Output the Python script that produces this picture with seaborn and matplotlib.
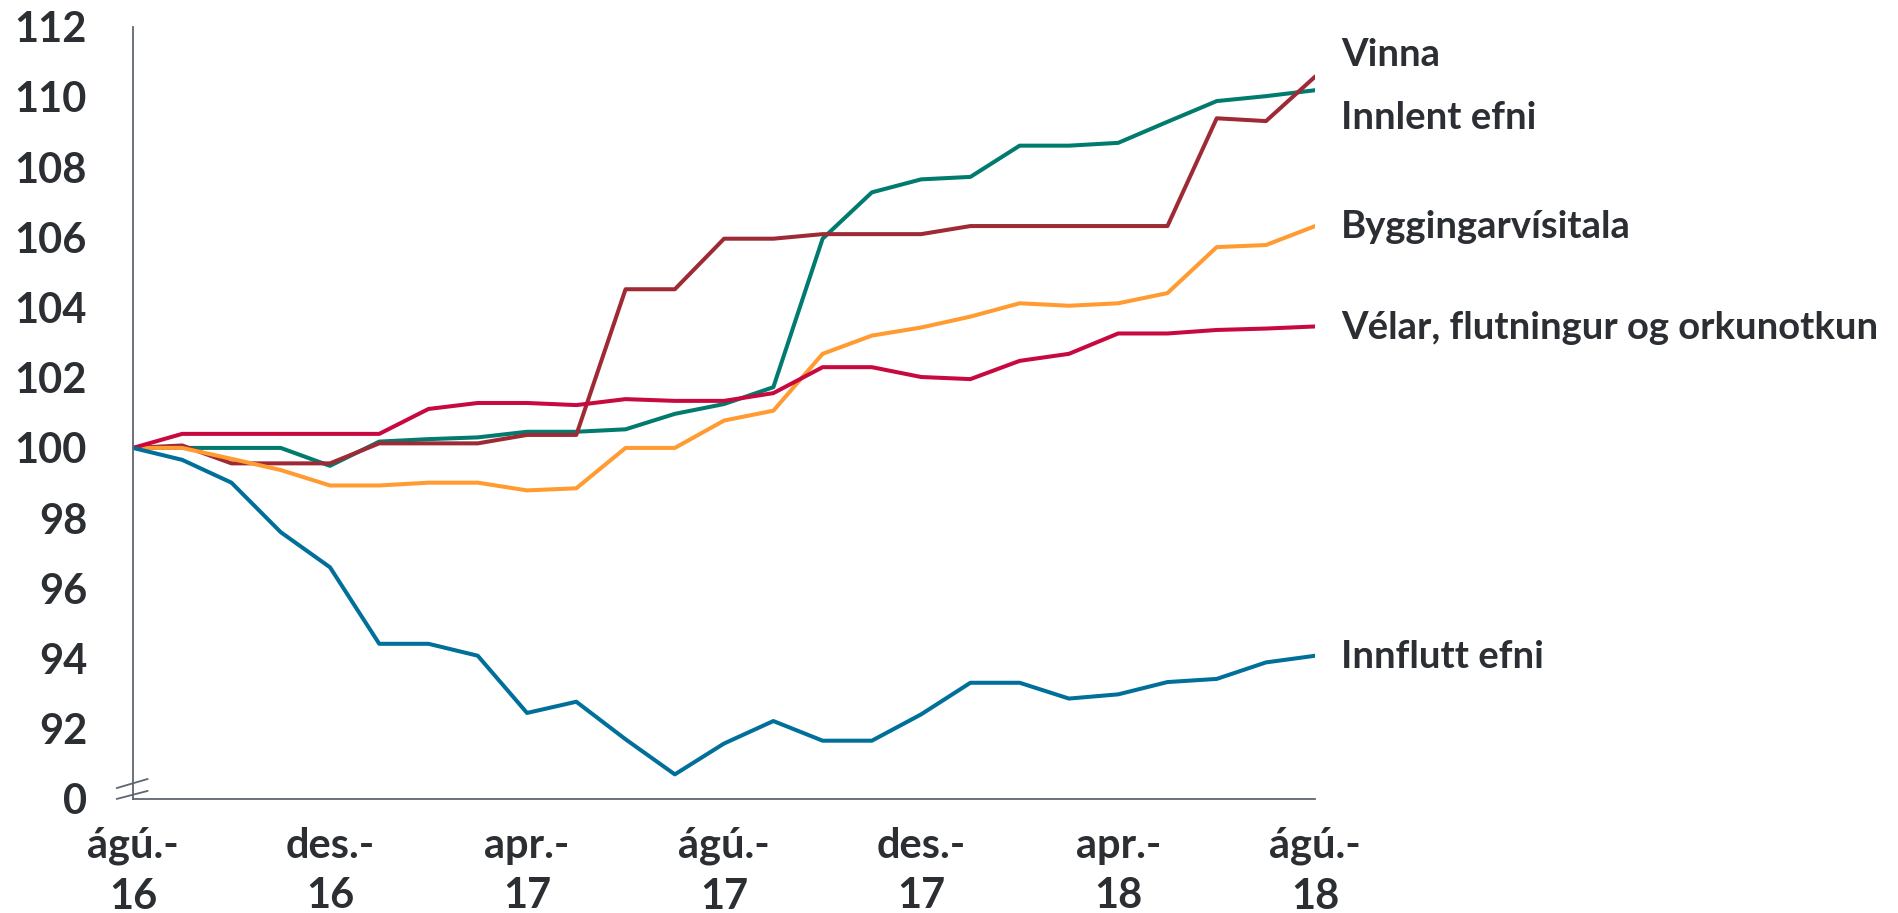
import seaborn as sns
import matplotlib.pyplot as plt
import pandas as pd

# months aug 2016 - aug 2018, index 100 = aug 2016
months = list(range(25))
tick_pos = [0, 4, 8, 12, 16, 20, 24]
tick_labels = ['ágú.-\n16', 'des.-\n16', 'apr.-\n17', 'ágú.-\n17', 'des.-\n17', 'apr.-\n18', 'ágú.-\n18']

vinna = [100, 100, 100, 100, 99.49, 100.18, 100.25, 100.3, 100.46, 100.46, 100.53, 100.97, 101.25,
         101.73, 105.96, 107.28, 107.65, 107.72, 108.61, 108.61, 108.69, 109.29, 109.88, 110.02, 110.19]
innlent = [100, 100.07, 99.56, 99.56, 99.56, 100.13, 100.13, 100.13, 100.37, 100.37, 104.52, 104.52, 105.96,
           105.96, 106.09, 106.09, 106.09, 106.32, 106.32, 106.32, 106.32, 106.32, 109.39, 109.31, 110.58]
bygging = [100, 100, 99.69, 99.37, 98.93, 98.93, 99.01, 99.01, 98.79, 98.85, 100, 100, 100.78,
           101.06, 102.68, 103.2, 103.43, 103.74, 104.12, 104.05, 104.12, 104.41, 105.72, 105.78, 106.32]
velar = [100, 100.4, 100.4, 100.4, 100.4, 100.4, 101.11, 101.28, 101.28, 101.22, 101.39, 101.34, 101.34,
         101.56, 102.3, 102.3, 102.02, 101.96, 102.48, 102.68, 103.26, 103.26, 103.36, 103.4, 103.46]
innflutt = [100, 99.66, 99.01, 97.6, 96.6, 94.42, 94.42, 94.08, 92.45, 92.77, 91.7, 90.7, 91.58,
            92.22, 91.66, 91.66, 92.41, 93.31, 93.31, 92.86, 92.98, 93.33, 93.42, 93.89, 94.08]

names = ['Vinna', 'Innlent efni', 'Byggingarvísitala', 'Vélar, flutningur og orkunotkun', 'Innflutt efni']
colors = ['#007B6E', '#9E2A35', '#FF9B30', '#C8093F', '#00709A']
label_y = [111.2, 109.4, 106.28, 103.41, 94.03]

df = pd.concat([pd.DataFrame({'month': months, 'value': v, 'series': n})
                for n, v in zip(names, [vinna, innlent, bygging, velar, innflutt])])

sns.set_style('white')
plt.rcParams['font.family'] = ['Lato', 'DejaVu Sans']
txt = '#2B2F33'
axc = '#5E6670'

fig = plt.figure(figsize=(18.99, 9.13), dpi=100)
ax = fig.add_axes([0.0700, 0.1249, 0.6226, 0.8459])
sns.lineplot(data=df, x='month', y='value', hue='series', palette=dict(zip(names, colors)),
             hue_order=names, linewidth=2.9, legend=False, ax=ax)

ax.set_xlim(0, 24)
ax.set_ylim(90, 112)
ax.set_yticks(range(90, 113, 2))
ax.set_yticklabels(['0'] + [str(v) for v in range(92, 113, 2)])
ax.set_xticks(tick_pos)
ax.set_xticklabels(tick_labels, linespacing=1.4)
ax.tick_params(axis='y', length=11, width=1.3, color=axc, labelsize=30, labelcolor=txt, pad=22)
ax.tick_params(axis='x', length=0, labelsize=30, labelcolor=txt, pad=20)
for t in ax.get_xticklabels() + ax.get_yticklabels():
    t.set_fontweight('bold')
ax.set_xlabel('')
ax.set_ylabel('')
sns.despine(ax=ax)
for s in ['left', 'bottom']:
    ax.spines[s].set_color(axc)
    ax.spines[s].set_linewidth(1.3)

# axis break marks
ax.plot([-0.33, 0.3], [90.0, 90.23], color=axc, lw=1.3, clip_on=False)
ax.plot([-0.33, 0.3], [90.31, 90.57], color=axc, lw=1.3, clip_on=False)

for n, c, y in zip(names, colors, label_y):
    ax.text(24.53, y, n, fontsize=27.5, fontweight='bold', color=txt, va='center', ha='left')

fig.savefig('out.png', dpi=100)
